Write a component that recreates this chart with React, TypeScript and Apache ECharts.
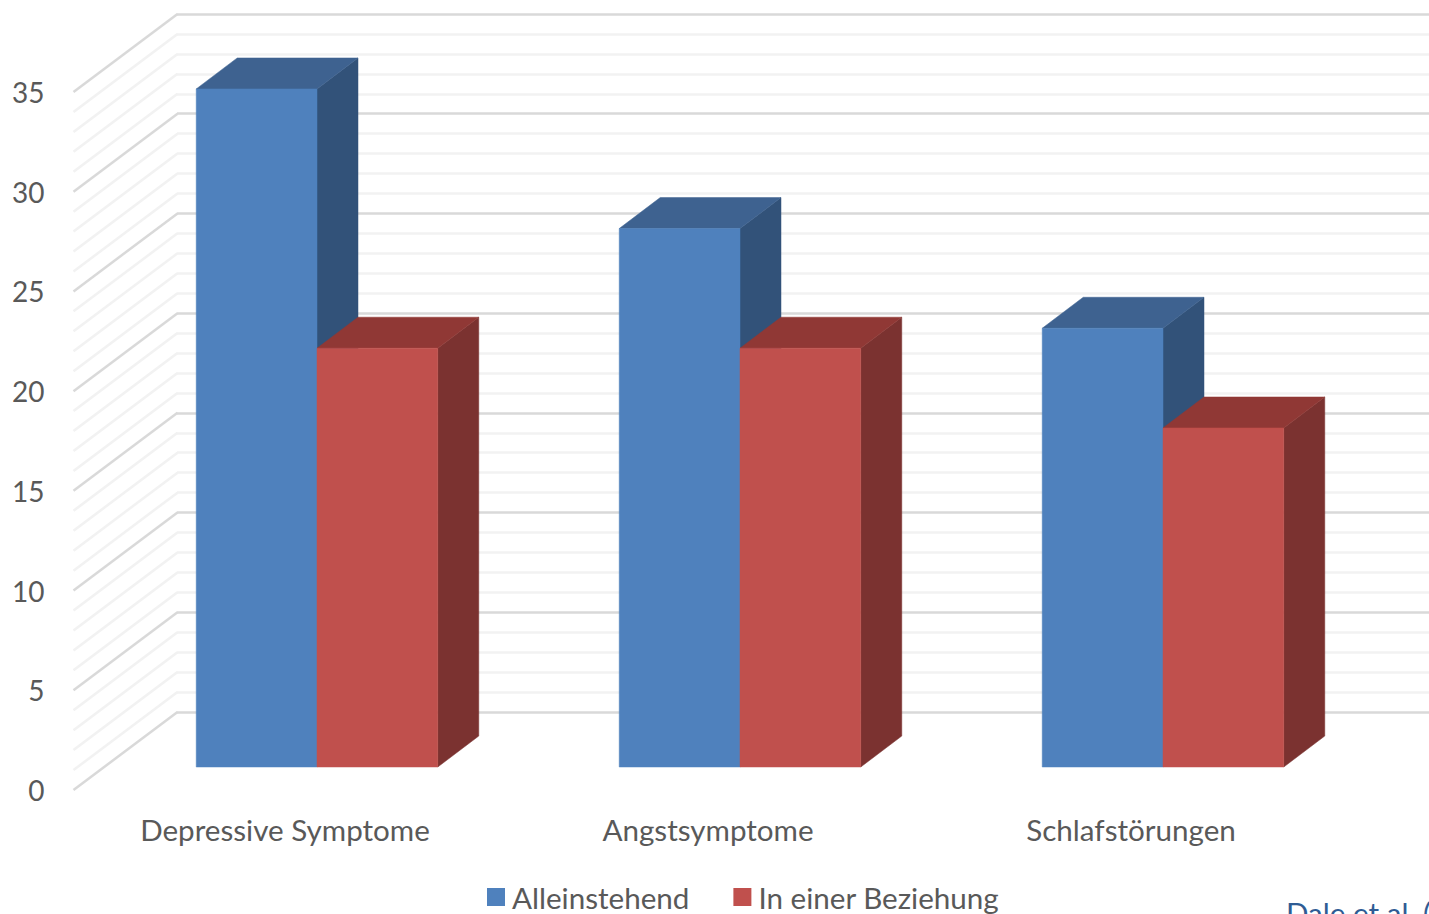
import React, { useEffect, useRef } from "react";
import * as echarts from "echarts";

const categories = ["Depressive Symptome", "Angstsymptome", "Schlafstörungen"];
const alleinstehend = [34, 27, 22];
const beziehung = [21, 21, 17];
const wallValues = Array.from({ length: 36 }, (_, i) => i);
const FONT = "Lato, 'Open Sans', sans-serif";
const TEXT = "#595959";
const FS = 29.6;
const DX = 41;
const DY = -31;

const bar3d = (side: number, front: string, right: string, top: string) => (_p: any, api: any) => {
  const cat = api.value(0);
  const [cx, y] = api.coord([cat, api.value(1)]);
  const [, y0] = api.coord([cat, 0]);
  const w = api.size([1, 0])[0] * 0.2855;
  const x0 = side === 0 ? cx - w : cx;
  const x1 = x0 + w;
  const poly = (points: number[][], fill: string) => ({
    type: "polygon",
    shape: { points },
    style: { fill, stroke: fill, lineWidth: 0.5 },
  });
  return {
    type: "group",
    children: [
      poly([[x1, y], [x1 + DX, y + DY], [x1 + DX, y0 + DY], [x1, y0]], right),
      poly([[x0, y], [x0 + DX, y + DY], [x1 + DX, y + DY], [x1, y]], top),
      poly([[x0, y], [x1, y], [x1, y0], [x0, y0]], front),
    ],
  };
};

const wallLine = (params: any, api: any) => {
  const v = api.value(0);
  const [, y] = api.coord([0, v]);
  const x = (params.coordSys as any).x;
  return {
    type: "line",
    shape: { x1: x, y1: y, x2: x + 104, y2: y - 78 },
    style: { stroke: v % 5 === 0 ? "#d9d9d9" : "#f2f2f2", lineWidth: 2.5 },
    z2: v % 5 === 0 ? 2 : 1,
  };
};

export default function App() {
  const ref = useRef<HTMLDivElement>(null);
  useEffect(() => {
    document.body.style.margin = "0";
    document.body.style.overflow = "hidden";
    const chart = echarts.init(ref.current!, null, { renderer: "svg" });
    chart.setOption({
      animation: false,
      backgroundColor: "#ffffff",
      textStyle: { fontFamily: FONT },
      legend: {
        left: 487,
        top: 882,
        itemWidth: 18,
        itemHeight: 18,
        itemGap: 44,
        padding: 0,
        icon: "rect",
        selectedMode: false,
        textStyle: { fontFamily: FONT, fontSize: FS, color: TEXT, padding: [0, 0, 0, 2] },
        data: ["Alleinstehend", "In einer Beziehung"],
      },
      grid: [
        { left: 105.5, right: 54.5, top: 69, bottom: 147 },
        { left: 73.5, right: 86.5, top: 92, bottom: 124 },
        { left: 177, right: 0, top: 14, bottom: 202 },
      ],
      xAxis: [
        { gridIndex: 0, type: "category", data: categories, show: false },
        {
          gridIndex: 1,
          type: "category",
          data: categories,
          axisLine: { show: false },
          axisTick: { show: false },
          axisLabel: { color: TEXT, fontFamily: FONT, fontSize: FS, margin: 24 },
        },
        { gridIndex: 2, type: "value", show: false, min: 0, max: 1 },
      ],
      yAxis: [
        { gridIndex: 0, type: "value", min: 0, max: 35, show: false },
        {
          gridIndex: 1,
          type: "value",
          min: 0,
          max: 35,
          interval: 5,
          axisLine: { show: false },
          axisTick: { show: false },
          splitLine: { show: false },
          axisLabel: { color: TEXT, fontFamily: FONT, fontSize: 28, margin: 29 },
        },
        {
          gridIndex: 2,
          type: "value",
          min: 0,
          max: 35,
          interval: 5,
          axisLine: { show: false },
          axisTick: { show: false },
          axisLabel: { show: false },
          splitLine: { show: true, lineStyle: { color: "#d9d9d9", width: 2.5 } },
          minorTick: { show: false, splitNumber: 5 },
          minorSplitLine: { show: true, lineStyle: { color: "#f2f2f2", width: 2.5 } },
        },
      ],
      series: [
        {
          type: "custom",
          name: "wall",
          xAxisIndex: 1,
          yAxisIndex: 1,
          silent: true,
          data: wallValues.map((v) => [v]),
          encode: { y: 0 },
          renderItem: wallLine,
          z: 1,
        },
        {
          type: "custom",
          name: "Alleinstehend",
          xAxisIndex: 0,
          yAxisIndex: 0,
          itemStyle: { color: "#4F81BD" },
          data: alleinstehend.map((v, i) => [i, v]),
          encode: { x: 0, y: 1 },
          renderItem: bar3d(0, "#4F81BD", "#325279", "#3E6290"),
          z: 3,
        },
        {
          type: "custom",
          name: "In einer Beziehung",
          xAxisIndex: 0,
          yAxisIndex: 0,
          itemStyle: { color: "#C0504D" },
          data: beziehung.map((v, i) => [i, v]),
          encode: { x: 0, y: 1 },
          renderItem: bar3d(1, "#C0504D", "#7B3230", "#903835"),
          z: 4,
        },
      ],
      graphic: [
        {
          type: "text",
          x: 1286,
          y: 897,
          style: { text: "Dale et al. (2021)", fill: "#2F5C94", fontFamily: FONT, fontSize: FS },
        },
      ],
    });
    return () => chart.dispose();
  }, []);
  return <div ref={ref} style={{ width: 1429, height: 914, overflow: "hidden" }} />;
}
